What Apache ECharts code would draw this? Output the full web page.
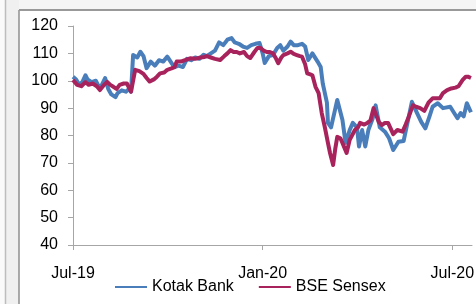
<!DOCTYPE html>
<html>
<head>
<meta charset="utf-8">
<script src="https://cdn.jsdelivr.net/npm/echarts@6/dist/echarts.min.js"></script>
<style>
  html, body { margin: 0; padding: 0; background: #fff; }
  #main { width: 476px; height: 304px; }
</style>
</head>
<body>
<div id="main"></div>
<script>
// days since 1 Jul 2019
var kotakDays = [0, 3, 6, 9, 12, 14, 18, 22, 26, 31, 34, 37, 41, 43, 47, 51, 54, 56, 58, 62,
    65, 68, 71, 75, 79, 83, 87, 91, 95, 98, 102, 106, 110, 114, 118, 122, 126, 129, 133, 137,
    141, 145, 149, 153, 156, 160, 164, 168, 172, 176, 180, 183, 185, 189, 193, 197, 200, 203, 207, 210,
    213, 217, 221, 224, 227, 231, 236, 239, 241, 245, 246, 249, 252, 255, 260, 263, 267, 270, 274, 276,
    279, 282, 285, 289, 292, 296, 301, 305, 309, 314, 319, 324, 327, 332, 336, 340, 344, 347, 352, 357,
    364, 369, 371, 374, 377, 380, 384];
var kotakValues = [101.5, 100.5, 98.5, 99.5, 102, 100.5, 99.5, 100, 97, 101, 97, 95, 94, 95.5, 96.5, 96, 97, 96, 109.4, 108.5,
    110.6, 109, 104.6, 107, 105.5, 107.5, 107, 108.8, 106.5, 105, 105.5, 105, 108, 107.5, 108.5, 108, 109.5, 109, 110, 111,
    114, 113, 115, 115.6, 114, 113.5, 112.5, 112, 113, 113.5, 113.8, 110, 106.5, 109, 109.4, 112, 113, 111, 112.5, 114.3,
    113, 113, 113.5, 112.5, 107.6, 110, 107, 105, 99, 92, 84.6, 83, 88, 93, 85.7, 77.3, 82, 84.6, 83, 76,
    82, 76, 82, 86, 91, 83, 81.4, 79, 74.7, 77.7, 78, 86.9, 92.3, 88.2, 85, 82.6, 87, 90.5, 91.8, 90,
    90.5, 87.5, 86.3, 88.2, 87, 91.8, 88.5];

var sensexDays = [0, 4, 8, 12, 15, 19, 23, 26, 30, 33, 36, 39, 42, 45, 49, 52, 56, 60, 64, 68,
    71, 74, 78, 81, 84, 88, 91, 95, 98, 100, 104, 108, 113, 118, 123, 127, 129, 133, 137, 142,
    146, 149, 152, 155, 158, 161, 165, 168, 171, 175, 178, 181, 184, 187, 190, 193, 196, 198, 201, 203,
    207, 210, 213, 216, 219, 221, 224, 226, 229, 231, 234, 237, 240, 243, 246, 248, 251, 253, 255, 258,
    260, 264, 267, 272, 275, 277, 281, 284, 287, 290, 292, 295, 298, 301, 304, 309, 313, 318, 321, 324,
    328, 331, 335, 339, 343, 347, 351, 354, 357, 361, 365, 369, 372, 376, 379, 381, 384];
var sensexValues = [100.3, 98.5, 98, 99.5, 98.5, 99, 98, 96.6, 98.5, 99.6, 98.5, 97.8, 97, 98.5, 99, 99, 96, 104, 103.5, 102.5,
    101, 99.7, 100.5, 101.5, 102.7, 103, 104, 104.5, 105, 107, 107, 107.5, 108.2, 108, 108.5, 108.7, 109, 108.5, 108, 107.6,
    109, 110, 111.2, 110.5, 110.5, 110, 110.5, 109, 108.3, 110.5, 112, 112, 111, 110.5, 110.5, 110, 108, 106.4, 108.5, 109.4,
    110, 110.6, 109.8, 109.4, 109, 108.8, 106, 102.7, 102.3, 102, 97.8, 95.5, 88.2, 83, 77.3, 73.6, 69.2, 75, 79.5, 79,
    77.3, 73.6, 78.4, 82, 83, 84.6, 84, 84.6, 85.5, 90, 88, 85, 83.8, 84.6, 84.6, 80.5, 82, 81.4, 84, 86.9,
    91, 90.5, 90, 89, 92, 93.6, 93.6, 93.6, 95.5, 96.6, 97.2, 97.5, 98, 100.3, 101.5, 101.5, 101];

var xTickDays = [0, 183, 366];
var xTickLabels = ['Jul-19', 'Jan-20', 'Jul-20'];
var seriesNames = ['Kotak Bank', 'BSE Sensex'];

function pairs(days, vals) {
    return days.map(function (d, i) { return [d, vals[i]]; });
}

var myChart = echarts.init(document.getElementById('main'));

var font = 'Liberation Sans, Arial, sans-serif';

var option = {
    backgroundColor: '#ffffff',
    animation: false,
    textStyle: { fontFamily: font },
    graphic: [
        { type: 'rect', shape: { x: 0, y: 0, width: 476, height: 10 }, style: { fill: '#f5f5f5' }, z: -10 },
        { type: 'rect', shape: { x: 0, y: 0, width: 19, height: 304 }, style: { fill: '#f0f0f0' }, z: -10 },
        { type: 'rect', shape: { x: 0, y: 0, width: 5, height: 304 }, style: { fill: '#fafafa' }, z: -9 },
        { type: 'line', shape: { x1: 5.5, y1: 0, x2: 5.5, y2: 304 }, style: { stroke: '#bdbdbd', lineWidth: 1.5 }, z: -8 },
        { type: 'line', shape: { x1: 19, y1: 10, x2: 19, y2: 304 }, style: { stroke: '#8f8f8f', lineWidth: 1.5 }, z: -8 },
        { type: 'line', shape: { x1: 19, y1: 10, x2: 476, y2: 10 }, style: { stroke: '#999999', lineWidth: 2 }, z: -8 }
    ],
    grid: {
        left: 73,
        right: 4,
        top: 26,
        bottom: 59,
        outerBoundsMode: 'none'
    },
    legend: {
        left: 110,
        top: 274,
        itemWidth: 32,
        itemHeight: 2,
        itemGap: 25,
        icon: 'rect',
        textStyle: { fontSize: 16, color: '#000', fontFamily: font },
        data: seriesNames
    },
    xAxis: {
        type: 'value',
        min: 0,
        max: 385,
        interval: 183,
        axisLine: { lineStyle: { color: '#a6a6a6', width: 1 } },
        axisTick: { length: 5, customValues: xTickDays, lineStyle: { color: '#a6a6a6' } },
        axisLabel: {
            customValues: xTickDays,
            margin: 21,
            fontSize: 16,
            color: '#000',
            fontFamily: font,
            formatter: function (v) {
                var i = xTickDays.indexOf(v);
                return i >= 0 ? xTickLabels[i] : '';
            }
        },
        splitLine: { show: false }
    },
    yAxis: {
        type: 'value',
        min: 40,
        max: 120,
        interval: 10,
        axisLine: { show: true, lineStyle: { color: '#a6a6a6', width: 1 } },
        axisTick: { show: true, length: 5, lineStyle: { color: '#a6a6a6' } },
        axisLabel: { margin: 15, fontSize: 16, color: '#000', fontFamily: font },
        splitLine: { show: false }
    },
    series: [
        {
            name: seriesNames[0],
            type: 'line',
            data: pairs(kotakDays, kotakValues),
            showSymbol: false,
            color: '#4a7ebb',
            lineStyle: { width: 4, color: '#4a7ebb', join: 'round' },
            z: 2
        },
        {
            name: seriesNames[1],
            type: 'line',
            data: pairs(sensexDays, sensexValues),
            showSymbol: false,
            color: '#a8235c',
            lineStyle: { width: 4, color: '#a8235c', join: 'round' },
            z: 3
        }
    ]
};

myChart.setOption(option);
</script>
</body>
</html>
